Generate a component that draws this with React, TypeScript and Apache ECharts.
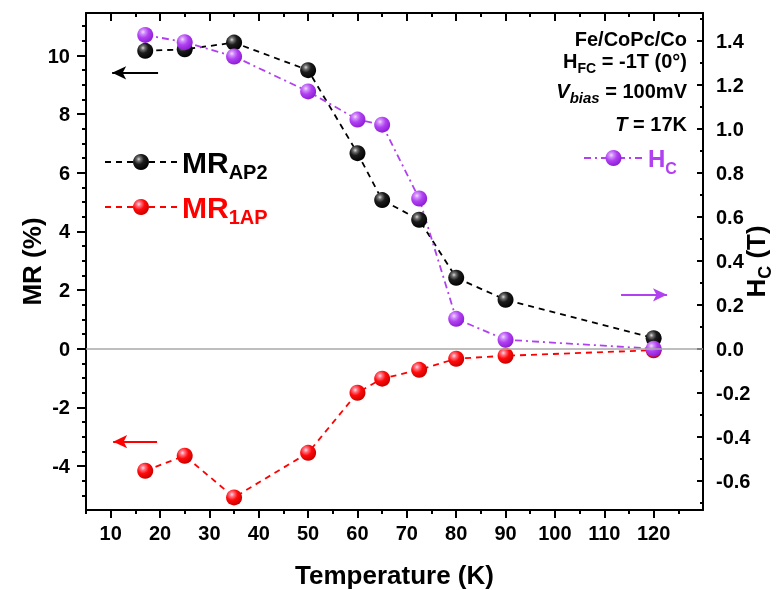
import React, { useEffect, useRef } from 'react';
import * as echarts from 'echarts';

// ---- data ----
const temps = [17, 25, 35, 50, 60, 65, 72.5, 80, 90, 120];
const mrAP2 = [10.16, 10.21, 10.44, 9.5, 6.67, 5.07, 4.4, 2.42, 1.67, 0.36];
const mr1AP = [-4.16, -3.65, -5.07, -3.55, -1.5, -1.02, -0.72, -0.34, -0.24, -0.05];
const hc = [1.427, 1.394, 1.329, 1.17, 1.042, 1.019, 0.683, 0.136, 0.041, 0.0];

const xMajorTicks = [10, 20, 30, 40, 50, 60, 70, 80, 90, 100, 110, 120];
const xMinorTicks = [5, 15, 25, 35, 45, 55, 65, 75, 85, 95, 105, 115, 125];
const mrMajorTicks = [-4, -2, 0, 2, 4, 6, 8, 10];
const mrMinorTicks = [-5, -4.5, -3.5, -3, -2.5, -1.5, -1, -0.5, 0.5, 1, 1.5, 2.5, 3, 3.5, 4.5, 5, 5.5, 6.5, 7, 7.5, 8.5, 9, 9.5, 10.5, 11];
const hcMajorTicks = [-0.6, -0.4, -0.2, 0, 0.2, 0.4, 0.6, 0.8, 1.0, 1.2, 1.4];
const hcMinorTicks = [-0.7, -0.5, -0.3, -0.1, 0.1, 0.3, 0.5, 0.7, 0.9, 1.1, 1.3, 1.5];

const xRange = [5, 130];
const mrRange = [-5.5, 11.45];
const hcRange = [-5.5 / 7.5, 11.45 / 7.5];

// arrows: [xStart, xEnd(tip), y]
const arrowAP2 = [19.6, 10.3, 9.41];
const arrow1AP = [19.4, 10.5, -3.17];
const arrowHc = [113.4, 122.7, 0.245];

const FONT = 'Liberation Sans';
const PURPLE = '#b040f0';

function sphere(stops: [number, string][]) {
  return {
    type: 'radial',
    x: 0.36,
    y: 0.32,
    r: 0.72,
    colorStops: stops.map(([offset, color]) => ({ offset, color })),
  };
}

export default function App() {
  const ref = useRef<HTMLDivElement>(null);

  useEffect(() => {
    if (!ref.current) return;
    const chart = echarts.init(ref.current, undefined, { renderer: 'svg' });

    const tickLine = { width: 2, color: '#000' };
    const axisLine = { show: true, onZero: false, lineStyle: { color: '#000', width: 2 } };
    const tickLabel = { fontSize: 20, fontWeight: 'bold', color: '#000', fontFamily: FONT };

    const mkX = (position: string, major: boolean, inside: boolean, extra: any = {}) => ({
      type: 'value',
      min: xRange[0],
      max: xRange[1],
      position,
      nameMoveOverlap: false,
      axisLine: major ? axisLine : { show: false, onZero: false },
      axisTick: {
        show: true,
        inside,
        length: major ? 8 : 4,
        lineStyle: tickLine,
        customValues: major ? xMajorTicks : xMinorTicks,
      },
      axisLabel: { show: false },
      splitLine: { show: false },
      minorTick: { show: false },
      ...extra,
    });

    const mkY = (position: string, range: number[], ticks: number[], len: number, inside: boolean, line: boolean, extra: any = {}) => ({
      type: 'value',
      min: range[0],
      max: range[1],
      position,
      nameMoveOverlap: false,
      axisLine: line ? axisLine : { show: false, onZero: false },
      axisTick: { show: true, inside, length: len, lineStyle: tickLine, customValues: ticks },
      axisLabel: { show: false },
      splitLine: { show: false },
      minorTick: { show: false },
      ...extra,
    });

    const black = sphere([[0, '#dcdcdc'], [0.18, '#707070'], [0.45, '#1c1c1c'], [1, '#000000']]);
    const purple = sphere([[0, '#f3dcff'], [0.2, '#d08cfb'], [0.5, '#b040f0'], [1, '#8c1cd4']]);
    const red = sphere([[0, '#ffdce8'], [0.2, '#ff7080'], [0.5, '#ff0a0a'], [1, '#c80000']]);

    const arrowLine = (a: number[], color: string) => [
      { coord: [a[0], a[2]], symbol: 'none', lineStyle: { color, width: 2, type: 'solid' } },
      { coord: [a[1], a[2]], symbol: 'arrow', symbolSize: [10, 14], lineStyle: { color, width: 2, type: 'solid' } },
    ];

    const legendBase = {
      orient: 'horizontal',
      padding: 0,
      itemHeight: 20,
      selectedMode: false,
      itemStyle: { borderWidth: 0 },
    };

    const option: any = {
      animation: false,
      textStyle: { fontFamily: FONT },
      grid: { left: 86, right: 74, top: 13, bottom: 80, containLabel: false, outerBoundsMode: 'none' },
      title: [
        {
          text: 'Fe/CoPc/Co',
          right: 90,
          top: 29,
          padding: 0,
          textStyle: { fontSize: 20, fontWeight: 'bold', color: '#000', fontFamily: FONT, lineHeight: 20 },
        },
        {
          text: '{m|H}{s|FC}{m| = -1T (0°)}',
          right: 90,
          top: 51,
          padding: 0,
          textStyle: {
            rich: {
              m: { fontSize: 20, fontWeight: 'bold', color: '#000', fontFamily: FONT, lineHeight: 20 },
              s: { fontSize: 14, fontWeight: 'bold', color: '#000', fontFamily: FONT, lineHeight: 14, padding: [13, 0, 0, 0] },
            },
          },
        },
        {
          text: '{v|V}{s|bias}{m| = 100mV}',
          right: 90,
          top: 81,
          padding: 0,
          textStyle: {
            rich: {
              v: { fontSize: 20, fontWeight: 'bold', fontStyle: 'italic', color: '#000', fontFamily: FONT, lineHeight: 20 },
              s: { fontSize: 15, fontWeight: 'bold', fontStyle: 'italic', color: '#000', fontFamily: FONT, lineHeight: 15, padding: [12, 0, 0, 0] },
              m: { fontSize: 20, fontWeight: 'bold', color: '#000', fontFamily: FONT, lineHeight: 20 },
            },
          },
        },
        {
          text: '{t|T}{m| = 17K}',
          right: 90,
          top: 114,
          padding: 0,
          textStyle: {
            rich: {
              t: { fontSize: 20, fontWeight: 'bold', fontStyle: 'italic', color: '#000', fontFamily: FONT, lineHeight: 20 },
              m: { fontSize: 20, fontWeight: 'bold', color: '#000', fontFamily: FONT, lineHeight: 20 },
            },
          },
        },
      ],
      legend: [
        {
          ...legendBase,
          data: ['MR_AP2'],
          left: 104,
          top: 142,
          itemWidth: 72,
          formatter: () => '{m|MR}{s|AP2}',
          textStyle: {
            rich: {
              m: { fontSize: 30, fontWeight: 'bold', color: '#000', fontFamily: FONT, lineHeight: 30 },
              s: { fontSize: 20, fontWeight: 'bold', color: '#000', fontFamily: FONT, lineHeight: 20, padding: [20, 0, 0, 0] },
            },
          },
        },
        {
          ...legendBase,
          data: ['MR_1AP'],
          left: 104,
          top: 187,
          itemWidth: 72,
          formatter: () => '{m|MR}{s|1AP}',
          textStyle: {
            rich: {
              m: { fontSize: 30, fontWeight: 'bold', color: '#ff0000', fontFamily: FONT, lineHeight: 30 },
              s: { fontSize: 20, fontWeight: 'bold', color: '#ff0000', fontFamily: FONT, lineHeight: 20, padding: [20, 0, 0, 0] },
            },
          },
        },
        {
          ...legendBase,
          data: ['Hc'],
          left: 583,
          top: 140,
          itemWidth: 59,
          formatter: () => '{m|H}{s|C}',
          textStyle: {
            rich: {
              m: { fontSize: 24, fontWeight: 'bold', color: PURPLE, fontFamily: FONT, lineHeight: 24 },
              s: { fontSize: 16, fontWeight: 'bold', color: PURPLE, fontFamily: FONT, lineHeight: 16, padding: [20, 0, 0, 0] },
            },
          },
        },
      ],
      xAxis: [
        mkX('bottom', true, false, {
          name: 'Temperature (K)',
          nameLocation: 'middle',
          nameGap: 52,
          nameTextStyle: { fontSize: 26, fontWeight: 'bold', color: '#000', fontFamily: FONT, lineHeight: 26 },
          axisLabel: { show: true, customValues: xMajorTicks, margin: 13, ...tickLabel },
        }),
        mkX('bottom', false, false),
        mkX('top', true, true),
        mkX('top', false, true),
      ],
      yAxis: [
        mkY('left', mrRange, mrMajorTicks, 9, false, true, {
          name: 'MR (%)',
          nameLocation: 'middle',
          nameGap: 41,
          nameTextStyle: { fontSize: 26, fontWeight: 'bold', color: '#000', fontFamily: FONT, lineHeight: 26 },
          axisLabel: { show: true, customValues: mrMajorTicks, margin: 16, formatter: (v: number) => String(v), ...tickLabel },
        }),
        mkY('left', mrRange, mrMinorTicks, 4, false, false),
        mkY('right', hcRange, hcMajorTicks, 6, true, true, {
          name: '{h|H}{s|C}{h| (T)}',
          nameLocation: 'middle',
          nameGap: 40,
          nameTextStyle: {
            rich: {
              h: { fontSize: 26, fontWeight: 'bold', color: '#000', fontFamily: FONT, lineHeight: 26 },
              s: { fontSize: 18, fontWeight: 'bold', color: '#000', fontFamily: FONT, lineHeight: 18, padding: [18, 0, 0, 0] },
            },
          },
          axisLabel: { show: true, customValues: hcMajorTicks, margin: 13, formatter: (v: number) => v.toFixed(1), ...tickLabel },
        }),
        mkY('right', hcRange, hcMinorTicks, 3, true, false),
      ],
      series: [
        {
          name: 'zero',
          type: 'line',
          data: [],
          xAxisIndex: 0,
          yAxisIndex: 0,
          z: 1,
          silent: true,
          markLine: {
            silent: true,
            symbol: ['none', 'none'],
            label: { show: false },
            lineStyle: { color: '#a8a8a8', width: 1.5, type: 'solid' },
            data: [{ yAxis: 0 }],
          },
        },
        {
          name: 'MR_AP2',
          type: 'line',
          xAxisIndex: 0,
          yAxisIndex: 0,
          data: temps.map((t, i) => [t, mrAP2[i]]),
          symbol: 'circle',
          symbolSize: 16,
          lineStyle: { color: '#000', width: 1.8, type: [6, 5] },
          itemStyle: { color: black, borderWidth: 0 },
          markLine: {
            silent: true,
            label: { show: false },
            data: [arrowLine(arrowAP2, '#000')],
          },
        },
        {
          name: 'MR_1AP',
          type: 'line',
          xAxisIndex: 0,
          yAxisIndex: 0,
          data: temps.map((t, i) => [t, mr1AP[i]]),
          symbol: 'circle',
          symbolSize: 16,
          lineStyle: { color: '#ff0000', width: 1.8, type: [6, 5] },
          itemStyle: { color: red, borderWidth: 0 },
          markLine: {
            silent: true,
            label: { show: false },
            data: [arrowLine(arrow1AP, '#ff0000')],
          },
        },
        {
          name: 'Hc',
          type: 'line',
          xAxisIndex: 0,
          yAxisIndex: 2,
          data: temps.map((t, i) => [t, hc[i]]),
          symbol: 'circle',
          symbolSize: 16,
          lineStyle: { color: PURPLE, width: 1.8, type: [7, 4, 2, 4] },
          itemStyle: { color: purple, borderWidth: 0 },
          markLine: {
            silent: true,
            label: { show: false },
            data: [arrowLine(arrowHc, PURPLE)],
          },
        },
      ],
    };

    chart.setOption(option);
    return () => chart.dispose();
  }, []);

  return <div ref={ref} style={{ position: 'fixed', left: 0, top: 0, width: 777, height: 590 }} />;
}
